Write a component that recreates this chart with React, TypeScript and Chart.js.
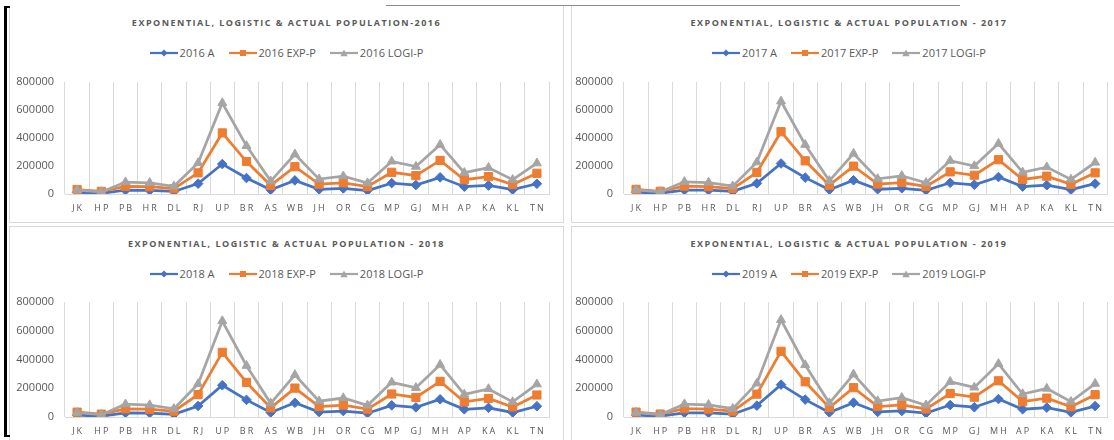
import React, { useEffect, useRef } from 'react';
import { Chart, registerables } from 'chart.js';

Chart.register(...registerables);

// ---------- DATA ----------
const STATES = ['JK', 'HP', 'PB', 'HR', 'DL', 'RJ', 'UP', 'BR', 'AS', 'WB', 'JH', 'OR', 'CG', 'MP', 'GJ', 'MH', 'AP', 'KA', 'KL', 'TN'];
const Y_TICKS = [0, 200000, 400000, 600000, 800000];

const A_2016 = [12000, 5000, 27000, 26000, 18000, 74000, 214000, 114000, 30000, 97000, 33000, 40000, 25000, 78000, 64000, 119000, 52000, 61000, 31000, 73000];
const EXP_2016 = [32000, 19000, 55000, 52000, 38000, 151000, 436000, 232000, 62000, 195000, 70000, 80000, 53000, 155000, 131000, 240000, 102000, 124000, 68000, 148000];
const LOGI_2016 = [28000, 15000, 85000, 80000, 55000, 222000, 650000, 344000, 92000, 284000, 106000, 127000, 78000, 233000, 196000, 352000, 152000, 188000, 102000, 220000];

const A_2017 = [12500, 5500, 28000, 27000, 18500, 76000, 218000, 117000, 31000, 98000, 34000, 41000, 26000, 80000, 66000, 121000, 53000, 63000, 31000, 74000];
const EXP_2017 = [33000, 19500, 56000, 53000, 39000, 154000, 445000, 237000, 63000, 199000, 71000, 82000, 54000, 158000, 134000, 245000, 104000, 127000, 69000, 151000];
const LOGI_2017 = [29000, 15500, 87000, 82000, 56000, 227000, 662000, 352000, 94000, 289000, 108000, 130000, 80000, 238000, 200000, 360000, 155000, 192000, 104000, 225000];

const A_2018 = [12700, 5600, 28500, 27500, 19000, 77000, 221000, 119000, 31500, 99000, 34500, 41500, 26500, 81000, 67000, 123000, 53500, 64000, 31500, 75000];
const EXP_2018 = [33500, 20000, 57000, 54000, 40000, 156000, 450000, 241000, 64000, 201000, 72000, 83000, 55000, 160000, 136000, 248000, 105000, 129000, 70000, 153000];
const LOGI_2018 = [30000, 16000, 89000, 83000, 57000, 230000, 668000, 357000, 95000, 293000, 110000, 132000, 81000, 241000, 203000, 364000, 157000, 195000, 105000, 228000];

const A_2019 = [13000, 5700, 29000, 28000, 19500, 79000, 225000, 121000, 32000, 100000, 35000, 42000, 27000, 83000, 68000, 125000, 54000, 65000, 32000, 76000];
const EXP_2019 = [34000, 20500, 58000, 55000, 41000, 159000, 457000, 245000, 65000, 204000, 73000, 84000, 56000, 163000, 138000, 252000, 107000, 131000, 71000, 155000];
const LOGI_2019 = [31000, 16500, 90000, 85000, 58000, 234000, 676000, 362000, 97000, 297000, 111000, 134000, 82000, 245000, 206000, 370000, 160000, 198000, 107000, 232000];

const TITLES = [
  'EXPONENTIAL, LOGISTIC & ACTUAL POPULATION-2016',
  'EXPONENTIAL, LOGISTIC & ACTUAL POPULATION - 2017',
  'EXPONENTIAL, LOGISTIC & ACTUAL POPULATION - 2018',
  'EXPONENTIAL, LOGISTIC & ACTUAL POPULATION - 2019',
];

// ---------- STYLE ----------
const BLUE = '#4472C4';
const ORANGE = '#ED7D31';
const GRAY = '#A5A5A5';
const TEXT = '#595959';
const GRID = '#D9D9D9';
const FONT = '"Open Sans", "DejaVu Sans", sans-serif';

const xSpacingPlugin = {
  id: 'xLetterSpacing',
  beforeDraw(chart: any) {
    const xs: any = chart.scales.x;
    if (xs && !xs.__patched) {
      const orig = xs.drawLabels.bind(xs);
      xs.drawLabels = (area: any) => {
        const ctx: any = chart.ctx;
        ctx.save();
        ctx.letterSpacing = '2px';
        ctx.translate(1, 0);
        orig(area);
        ctx.restore();
      };
      xs.__patched = true;
    }
  },
};

type PanelCfg = {
  year: string;
  title: string;
  actual: number[];
  exp: number[];
  logi: number[];
  left: number;
  top: number;
  width: number;
  height: number;
  canvasTop: number;
  canvasWidth: number;
  canvasHeight: number;
  yWidth: number;
  padTop: number;
  padRight: number;
  padBottom: number;
};

function Marker({ kind, color }: { kind: string; color: string }) {
  if (kind === 'diamond') return <polygon points="14,1.5 17.5,5 14,8.5 10.5,5" fill={color} />;
  if (kind === 'square') return <rect x={11} y={2} width={6} height={6} fill={color} />;
  return <polygon points="14,1.5 17.7,8.3 10.3,8.3" fill={color} />;
}

function LegendItem({ color, kind, label, last }: { color: string; kind: string; label: string; last?: boolean }) {
  return (
    <span style={{ display: 'inline-flex', alignItems: 'center', marginRight: last ? 0 : 14 }}>
      <svg width={28} height={10} style={{ display: 'block' }}>
        <line x1={0} y1={5} x2={28} y2={5} stroke={color} strokeWidth={2.2} />
        <Marker kind={kind} color={color} />
      </svg>
      <span style={{ marginLeft: 2 }}>{label}</span>
    </span>
  );
}

function Panel(cfg: PanelCfg) {
  const ref = useRef<HTMLCanvasElement | null>(null);
  useEffect(() => {
    if (!ref.current) return;
    const chart = new Chart(ref.current, {
      type: 'line',
      data: {
        labels: STATES,
        datasets: [
          {
            label: cfg.year + ' A',
            data: cfg.actual,
            borderColor: BLUE,
            backgroundColor: BLUE,
            pointStyle: 'rectRot',
            pointRadius: 4.8,
            pointBorderWidth: 1,
            borderWidth: 2.75,
            tension: 0,
            order: 2,
          },
          {
            label: cfg.year + ' EXP-P',
            data: cfg.exp,
            borderColor: ORANGE,
            backgroundColor: ORANGE,
            pointStyle: 'rect',
            pointRadius: 5.8,
            pointBorderWidth: 1,
            borderWidth: 2.75,
            tension: 0,
            order: 1,
          },
          {
            label: cfg.year + ' LOGI-P',
            data: cfg.logi,
            borderColor: GRAY,
            backgroundColor: GRAY,
            pointStyle: 'triangle',
            pointRadius: 5.2,
            pointBorderWidth: 1,
            borderWidth: 2.75,
            tension: 0,
            order: 0,
          },
        ],
      },
      options: {
        animation: false,
        responsive: false,
        maintainAspectRatio: false,
        layout: { padding: { top: cfg.padTop, right: cfg.padRight, bottom: cfg.padBottom, left: 0 } },
        plugins: { legend: { display: false }, title: { display: false }, tooltip: { enabled: false } },
        scales: {
          x: {
            offset: true,
            grid: { offset: true, color: GRID, lineWidth: 1, drawTicks: false },
            border: { display: true, color: GRID, width: 1 },
            ticks: { color: TEXT, font: { family: FONT, size: 9 }, padding: 9, maxRotation: 0, autoSkip: false },
            afterFit: (s: any) => {
              s.height = 22;
            },
          },
          y: {
            min: 0,
            max: 800000,
            afterBuildTicks: (s: any) => {
              s.ticks = Y_TICKS.map((v) => ({ value: v }));
            },
            grid: { display: false, drawTicks: false },
            border: { display: false },
            ticks: {
              color: TEXT,
              font: { family: FONT, size: 11 },
              padding: 11,
              callback: (v: any) => String(v),
            },
            afterFit: (s: any) => {
              s.width = cfg.yWidth;
              s.paddingTop = 0;
              s.paddingBottom = 0;
            },
          },
        },
      },
      plugins: [xSpacingPlugin],
    });
    return () => chart.destroy();
  }, []);

  return (
    <div
      style={{
        position: 'absolute',
        left: cfg.left,
        top: cfg.top,
        width: cfg.width,
        height: cfg.height,
        fontFamily: FONT,
        color: TEXT,
      }}
    >
      <div
        style={{
          position: 'absolute',
          left: 0,
          top: 11,
          width: cfg.width,
          textAlign: 'center',
          fontSize: 9,
          lineHeight: '12px',
          fontWeight: 700,
          letterSpacing: '1.5px',
          whiteSpace: 'nowrap',
        }}
      >
        {cfg.title}
      </div>
      <div
        style={{
          position: 'absolute',
          left: 0,
          top: 39,
          width: cfg.width,
          display: 'flex',
          justifyContent: 'center',
          fontSize: 11,
          lineHeight: '16px',
          whiteSpace: 'nowrap',
        }}
      >
        <LegendItem color={BLUE} kind="diamond" label={cfg.year + ' A'} />
        <LegendItem color={ORANGE} kind="square" label={cfg.year + ' EXP-P'} />
        <LegendItem color={GRAY} kind="triangle" label={cfg.year + ' LOGI-P'} last />
      </div>
      <canvas
        ref={ref}
        width={cfg.canvasWidth}
        height={cfg.canvasHeight}
        style={{ position: 'absolute', left: 0, top: cfg.canvasTop, width: cfg.canvasWidth, height: cfg.canvasHeight }}
      />
    </div>
  );
}

export default function App() {
  const panels: PanelCfg[] = [
    { year: '2016', title: TITLES[0], actual: A_2016, exp: EXP_2016, logi: LOGI_2016, left: 9, top: 6, width: 555, height: 217, canvasTop: 64, canvasWidth: 555, canvasHeight: 152, yWidth: 56, padTop: 12, padRight: 15, padBottom: 6 },
    { year: '2017', title: TITLES[1], actual: A_2017, exp: EXP_2017, logi: LOGI_2017, left: 571, top: 6, width: 556, height: 217, canvasTop: 64, canvasWidth: 543, canvasHeight: 152, yWidth: 53, padTop: 12, padRight: 0, padBottom: 6 },
    { year: '2018', title: TITLES[2], actual: A_2018, exp: EXP_2018, logi: LOGI_2018, left: 9, top: 227, width: 555, height: 213, canvasTop: 63, canvasWidth: 555, canvasHeight: 150, yWidth: 56, padTop: 12, padRight: 15, padBottom: 1 },
    { year: '2019', title: TITLES[3], actual: A_2019, exp: EXP_2019, logi: LOGI_2019, left: 571, top: 227, width: 556, height: 213, canvasTop: 63, canvasWidth: 543, canvasHeight: 150, yWidth: 53, padTop: 12, padRight: 0, padBottom: 1 },
  ];
  return (
    <div style={{ position: 'absolute', left: 0, top: 0, width: 1114, height: 440, overflow: 'hidden', background: '#fff' }}>
      {/* panel frames */}
      <div style={{ position: 'absolute', left: 9, top: 6, width: 555, height: 217, borderLeft: `1px solid ${GRID}`, borderRight: `1px solid ${GRID}`, borderBottom: `1px solid ${GRID}`, boxSizing: 'border-box' }} />
      <div style={{ position: 'absolute', left: 571, top: 6, width: 560, height: 217, borderLeft: `1px solid ${GRID}`, borderBottom: `1px solid ${GRID}`, boxSizing: 'border-box' }} />
      <div style={{ position: 'absolute', left: 9, top: 226, width: 555, height: 220, border: `1px solid ${GRID}`, boxSizing: 'border-box' }} />
      <div style={{ position: 'absolute', left: 571, top: 226, width: 560, height: 220, border: `1px solid ${GRID}`, boxSizing: 'border-box' }} />
      {/* decorative lines */}
      <div style={{ position: 'absolute', left: 386, top: 5, width: 574, height: 1, background: '#8c8c8c' }} />
      <div style={{ position: 'absolute', left: 4, top: 6, width: 3, height: 431, background: '#000' }} />
      <div style={{ position: 'absolute', left: 4, top: 6, width: 6, height: 2, background: '#000' }} />
      <div style={{ position: 'absolute', left: 4, top: 435, width: 6, height: 2, background: '#000' }} />
      {panels.map((p) => (
        <Panel key={p.year} {...p} />
      ))}
    </div>
  );
}
